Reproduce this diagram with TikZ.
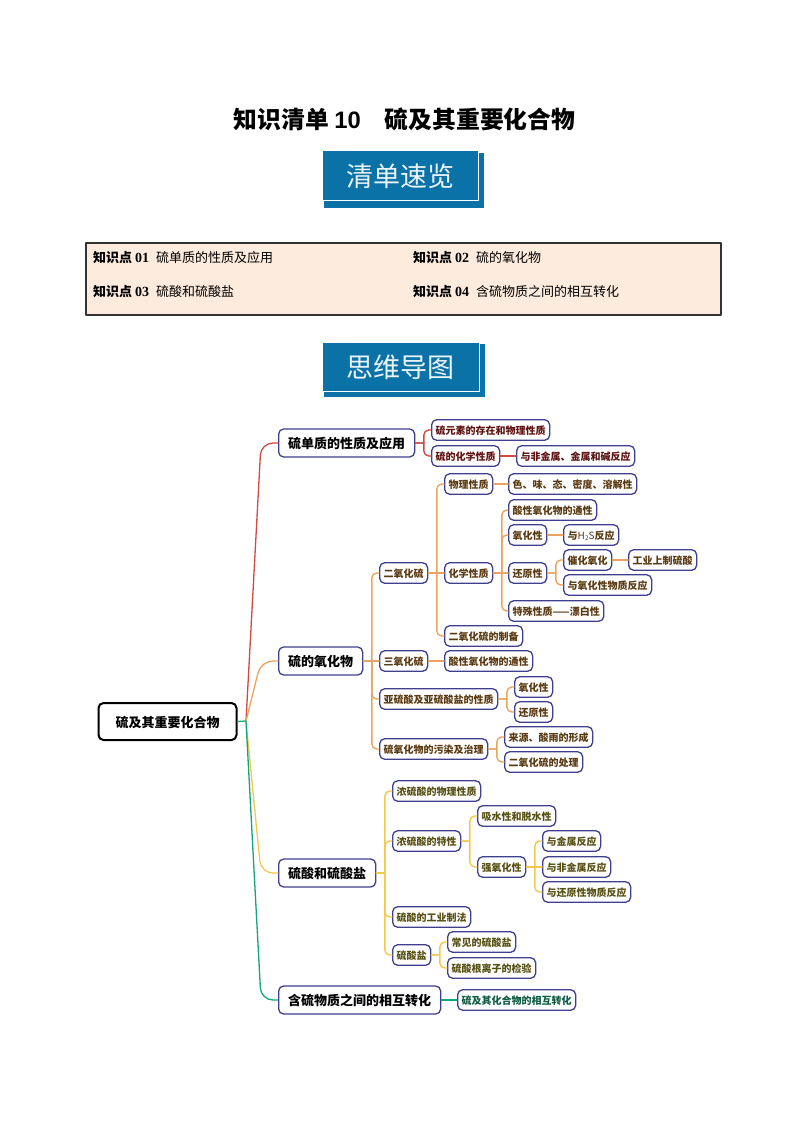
\documentclass[tikz,border=0pt]{standalone}
\usepackage{fontspec}
\setmainfont{Noto Sans CJK SC}
\newfontfamily\numserif{Liberation Serif}
\newfontfamily\numsans{Liberation Sans}
\usepackage{pgf,tikz}
\usetikzlibrary{arrows}
\definecolor{headblue}{HTML}{0A72A6}
\definecolor{tabfill}{HTML}{FDEBDD}
\definecolor{boxline}{HTML}{3F3F8F}
\definecolor{linered}{HTML}{CF4A40}
\definecolor{lineorange}{HTML}{E9A560}
\definecolor{lineyellow}{HTML}{F2C94E}
\definecolor{linegreen}{HTML}{12A67C}
\definecolor{textred}{HTML}{5E1212}
\definecolor{textorange}{HTML}{5A3A12}
\definecolor{textyellow}{HTML}{575014}
\definecolor{textgreen}{HTML}{0F5C42}
\tikzset{
  rootbox/.style={draw=black,line width=2pt,rounded corners=5pt,fill=white,minimum width=138pt,minimum height=37pt,inner sep=0pt,text height=13pt,text depth=2pt,font=\fontsize{13}{15}\selectfont\bfseries},
  mainbox/.style={draw=boxline,line width=1.3pt,rounded corners=5pt,fill=white,anchor=west,inner xsep=9.5pt,inner ysep=0pt,minimum height=28pt,text height=13pt,text depth=2pt,font=\fontsize{13}{15}\selectfont\bfseries},
  leafbox/.style={draw=boxline,line width=1.3pt,rounded corners=5pt,fill=white,anchor=west,inner xsep=4pt,inner ysep=0pt,minimum height=20.5pt,text height=10.5pt,text depth=1.5pt,font=\fontsize{10}{12}\selectfont\bfseries},
  headbox/.style={fill=headblue,draw=white,line width=1pt,text=white!92!headblue,inner sep=0pt,font=\fontsize{27}{30}\selectfont},
  headshade/.style={fill=headblue,inner sep=0pt},
  tabtext/.style={anchor=west,inner sep=0pt,font=\fontsize{13}{15}\selectfont},
  branch/.style={line width=1.4pt,rounded corners=5pt,to path={(\tikztostart.east) -- ++(8.5,0) ++(0,0) |- (\tikztotarget.west)}},
  straightbranch/.style={line width=1.4pt,to path={(\tikztostart.east) -- (\tikztotarget.west)}},
  trunk/.style={line width=1.3pt,rounded corners=12pt}
}
\newcommand{\kpoint}[1]{\textbf{知识点 {\numserif\bfseries\fontsize{14}{15}\selectfont #1}}\hspace{7pt}}
\begin{document}
\begin{tikzpicture}[line cap=round,line join=round,x=1pt,y=-1pt]
\useasboundingbox (0,0) rectangle (794,1123);
\fill[white] (0,0) rectangle (794,1123);
% title and head boxes
\node[inner sep=0pt,font=\fontsize{23.8}{28}\selectfont\bfseries] (title) at (404.5,119) {知识清单 {\numsans\bfseries 10}\hspace{24pt}硫及其重要化合物};
\node[headshade,minimum width=160pt,minimum height=55pt] (shadeone) at (404,180.5) {};
\node[headbox,minimum width=156pt,minimum height=50pt] (headone) at (400,176) {清单速览};
\node[headshade,minimum width=161pt,minimum height=53pt] (shadetwo) at (404.5,370.5) {};
\node[headbox,minimum width=157pt,minimum height=49pt] (headtwo) at (400.5,367) {思维导图};
% table
\node[draw=black!80,line width=2pt,fill=tabfill,minimum width=635pt,minimum height=72pt,inner sep=0pt] (tabframe) at (403.5,279) {};
\node[tabtext] (kpa) at (93,258) {\kpoint{01}硫单质的性质及应用};
\node[tabtext] (kpb) at (413,258) {\kpoint{02}硫的氧化物};
\node[tabtext] (kpc) at (93,292) {\kpoint{03}硫酸和硫酸盐};
\node[tabtext] (kpd) at (413,292) {\kpoint{04}含硫物质之间的相互转化};
% mind map
\node[rootbox] (root) at (167.5,721.5) {硫及其重要化合物};
\coordinate (rootout) at (246,721);
\node[mainbox] (sulfur) at (278,443) {硫单质的性质及应用};
\node[mainbox] (oxide) at (278,661) {硫的氧化物};
\node[mainbox] (acid) at (278,873) {硫酸和硫酸盐};
\node[mainbox] (convert) at (278,1000) {含硫物质之间的相互转化};
% first branch
\begin{scope}[every node/.append style={text=textred}]
\node[leafbox] (exist) at (431,430) {硫元素的存在和物理性质};
\node[leafbox] (chem) at (431,456) {硫的化学性质};
\node[leafbox] (react) at (516,456) {与非金属、金属和碱反应};
\end{scope}
% second branch
\begin{scope}[every node/.append style={text=textorange}]
\node[leafbox] (sotwo) at (379,573) {二氧化硫};
\node[leafbox] (sothree) at (379,661) {三氧化硫};
\node[leafbox] (sulfite) at (379,699) {亚硫酸及亚硫酸盐的性质};
\node[leafbox] (pollute) at (379,749) {硫氧化物的污染及治理};
\node[leafbox] (phys) at (444,484) {物理性质};
\node[leafbox] (chemtwo) at (444,573) {化学性质};
\node[leafbox] (prep) at (444,636) {二氧化硫的制备};
\node[leafbox] (acidthree) at (444,661) {酸性氧化物的通性};
\node[leafbox] (color) at (508,484) {色、味、态、密度、溶解性};
\node[leafbox] (acidtwo) at (508,510) {酸性氧化物的通性};
\node[leafbox] (oxid) at (508,535) {氧化性};
\node[leafbox] (redu) at (508,573) {还原性};
\node[leafbox] (bleach) at (508,611) {特殊性质——漂白性};
\node[leafbox,minimum width=55pt] (hts) at (563,535) {与{\mdseries H{\fontsize{6.5}{7}\selectfont\raisebox{-1pt}{2}}S}反应};
\node[leafbox] (cata) at (563,560) {催化氧化};
\node[leafbox] (withox) at (563,585) {与氧化性物质反应};
\node[leafbox] (indus) at (628,560) {工业上制硫酸};
\node[leafbox] (oxidb) at (514,687) {氧化性};
\node[leafbox] (redub) at (514,712) {还原性};
\node[leafbox] (source) at (504,737) {来源、酸雨的形成};
\node[leafbox] (treat) at (504,762) {二氧化硫的处理};
\end{scope}
% third branch
\begin{scope}[every node/.append style={text=textyellow}]
\node[leafbox] (cphys) at (392,791) {浓硫酸的物理性质};
\node[leafbox] (cspec) at (392,841) {浓硫酸的特性};
\node[leafbox] (method) at (392,917) {硫酸的工业制法};
\node[leafbox] (salt) at (392,955) {硫酸盐};
\node[leafbox] (absorb) at (477,816) {吸水性和脱水性};
\node[leafbox] (strong) at (477,867) {强氧化性};
\node[leafbox] (metal) at (542,841) {与金属反应};
\node[leafbox] (nonmetal) at (542,867) {与非金属反应};
\node[leafbox] (reducer) at (542,892) {与还原性物质反应};
\node[leafbox] (common) at (447,942) {常见的硫酸盐};
\node[leafbox] (test) at (447,968) {硫酸根离子的检验};
\end{scope}
% fourth branch
\node[leafbox,text=textgreen] (mutual) at (457,1000) {硫及其化合物的相互转化};
% connectors
\draw[line width=1.3pt,linegreen] (root.east) -- (rootout);
\foreach \n/\c in {sulfur/linered,oxide/lineorange,acid/lineyellow,convert/linegreen}
\draw[trunk,color=\c] (rootout) -- ([xshift=-17pt]\n.west) -- (\n.west);
\foreach \a/\b in {sulfur/exist,sulfur/chem}
\draw[branch,linered] (\a) to (\b);
\draw[straightbranch,linered] (chem) to (react);
\foreach \a/\b in {oxide/sotwo,oxide/sulfite,oxide/pollute,sotwo/phys,sotwo/prep,chemtwo/acidtwo,chemtwo/oxid,chemtwo/bleach,redu/cata,redu/withox,sulfite/oxidb,sulfite/redub,pollute/source,pollute/treat}
\draw[branch,lineorange] (\a) to (\b);
\foreach \a/\b in {oxide/sothree,sotwo/chemtwo,sothree/acidthree,phys/color,chemtwo/redu,oxid/hts,cata/indus}
\draw[straightbranch,lineorange] (\a) to (\b);
\foreach \a/\b in {acid/cphys,acid/cspec,acid/method,acid/salt,cspec/absorb,cspec/strong,strong/metal,strong/reducer,salt/common,salt/test}
\draw[branch,lineyellow] (\a) to (\b);
\draw[straightbranch,lineyellow] (strong) to (nonmetal);
\draw[straightbranch,linegreen] (convert) to (mutual);
\end{tikzpicture}
\end{document}
